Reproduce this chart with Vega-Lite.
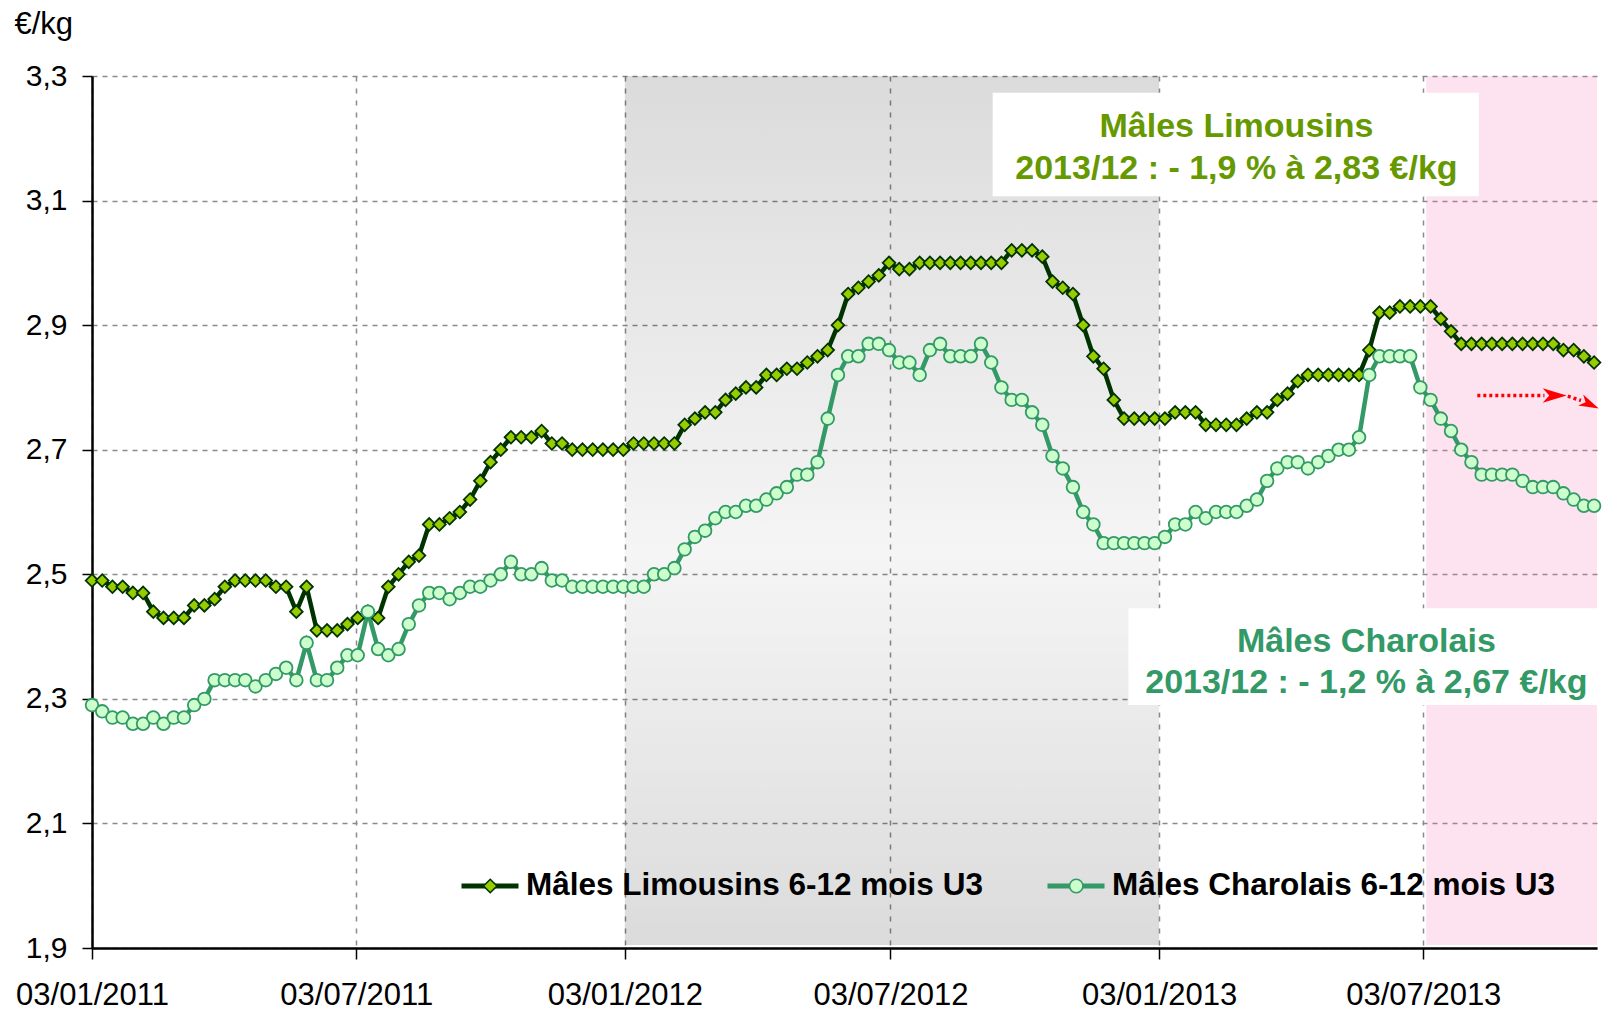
{
"$schema":"https://vega.github.io/schema/vega-lite/v6.json",
"width":1505,"height":872,
"autosize":{"type":"none"},
"padding":{"left":92,"top":76,"right":6,"bottom":62},
"background":"white",
"config":{"view":{"stroke":null},"font":"Liberation Sans"},
"datasets":{"prices":[
{"date":"2011-01-03","serie":"L","price":2.49},{"date":"2011-01-10","serie":"L","price":2.49},{"date":"2011-01-17","serie":"L","price":2.48},{"date":"2011-01-24","serie":"L","price":2.48},{"date":"2011-01-31","serie":"L","price":2.47},{"date":"2011-02-07","serie":"L","price":2.47},{"date":"2011-02-14","serie":"L","price":2.44},{"date":"2011-02-21","serie":"L","price":2.43},{"date":"2011-02-28","serie":"L","price":2.43},{"date":"2011-03-07","serie":"L","price":2.43},
{"date":"2011-03-14","serie":"L","price":2.45},{"date":"2011-03-21","serie":"L","price":2.45},{"date":"2011-03-28","serie":"L","price":2.46},{"date":"2011-04-04","serie":"L","price":2.48},{"date":"2011-04-11","serie":"L","price":2.49},{"date":"2011-04-18","serie":"L","price":2.49},{"date":"2011-04-25","serie":"L","price":2.49},{"date":"2011-05-02","serie":"L","price":2.49},{"date":"2011-05-09","serie":"L","price":2.48},{"date":"2011-05-16","serie":"L","price":2.48},
{"date":"2011-05-23","serie":"L","price":2.44},{"date":"2011-05-30","serie":"L","price":2.48},{"date":"2011-06-06","serie":"L","price":2.41},{"date":"2011-06-13","serie":"L","price":2.41},{"date":"2011-06-20","serie":"L","price":2.41},{"date":"2011-06-27","serie":"L","price":2.42},{"date":"2011-07-04","serie":"L","price":2.43},{"date":"2011-07-11","serie":"L","price":2.44},{"date":"2011-07-18","serie":"L","price":2.43},{"date":"2011-07-25","serie":"L","price":2.48},
{"date":"2011-08-01","serie":"L","price":2.50},{"date":"2011-08-08","serie":"L","price":2.52},{"date":"2011-08-15","serie":"L","price":2.53},{"date":"2011-08-22","serie":"L","price":2.58},{"date":"2011-08-29","serie":"L","price":2.58},{"date":"2011-09-05","serie":"L","price":2.59},{"date":"2011-09-12","serie":"L","price":2.60},{"date":"2011-09-19","serie":"L","price":2.62},{"date":"2011-09-26","serie":"L","price":2.65},{"date":"2011-10-03","serie":"L","price":2.68},
{"date":"2011-10-10","serie":"L","price":2.70},{"date":"2011-10-17","serie":"L","price":2.72},{"date":"2011-10-24","serie":"L","price":2.72},{"date":"2011-10-31","serie":"L","price":2.72},{"date":"2011-11-07","serie":"L","price":2.73},{"date":"2011-11-14","serie":"L","price":2.71},{"date":"2011-11-21","serie":"L","price":2.71},{"date":"2011-11-28","serie":"L","price":2.70},{"date":"2011-12-05","serie":"L","price":2.70},{"date":"2011-12-12","serie":"L","price":2.70},
{"date":"2011-12-19","serie":"L","price":2.70},{"date":"2011-12-26","serie":"L","price":2.70},{"date":"2012-01-02","serie":"L","price":2.70},{"date":"2012-01-09","serie":"L","price":2.71},{"date":"2012-01-16","serie":"L","price":2.71},{"date":"2012-01-23","serie":"L","price":2.71},{"date":"2012-01-30","serie":"L","price":2.71},{"date":"2012-02-06","serie":"L","price":2.71},{"date":"2012-02-13","serie":"L","price":2.74},{"date":"2012-02-20","serie":"L","price":2.75},
{"date":"2012-02-27","serie":"L","price":2.76},{"date":"2012-03-05","serie":"L","price":2.76},{"date":"2012-03-12","serie":"L","price":2.78},{"date":"2012-03-19","serie":"L","price":2.79},{"date":"2012-03-26","serie":"L","price":2.80},{"date":"2012-04-02","serie":"L","price":2.80},{"date":"2012-04-09","serie":"L","price":2.82},{"date":"2012-04-16","serie":"L","price":2.82},{"date":"2012-04-23","serie":"L","price":2.83},{"date":"2012-04-30","serie":"L","price":2.83},
{"date":"2012-05-07","serie":"L","price":2.84},{"date":"2012-05-14","serie":"L","price":2.85},{"date":"2012-05-21","serie":"L","price":2.86},{"date":"2012-05-28","serie":"L","price":2.90},{"date":"2012-06-04","serie":"L","price":2.95},{"date":"2012-06-11","serie":"L","price":2.96},{"date":"2012-06-18","serie":"L","price":2.97},{"date":"2012-06-25","serie":"L","price":2.98},{"date":"2012-07-02","serie":"L","price":3.00},{"date":"2012-07-09","serie":"L","price":2.99},
{"date":"2012-07-16","serie":"L","price":2.99},{"date":"2012-07-23","serie":"L","price":3.00},{"date":"2012-07-30","serie":"L","price":3.00},{"date":"2012-08-06","serie":"L","price":3.00},{"date":"2012-08-13","serie":"L","price":3.00},{"date":"2012-08-20","serie":"L","price":3.00},{"date":"2012-08-27","serie":"L","price":3.00},{"date":"2012-09-03","serie":"L","price":3.00},{"date":"2012-09-10","serie":"L","price":3.00},{"date":"2012-09-17","serie":"L","price":3.00},
{"date":"2012-09-24","serie":"L","price":3.02},{"date":"2012-10-01","serie":"L","price":3.02},{"date":"2012-10-08","serie":"L","price":3.02},{"date":"2012-10-15","serie":"L","price":3.01},{"date":"2012-10-22","serie":"L","price":2.97},{"date":"2012-10-29","serie":"L","price":2.96},{"date":"2012-11-05","serie":"L","price":2.95},{"date":"2012-11-12","serie":"L","price":2.90},{"date":"2012-11-19","serie":"L","price":2.85},{"date":"2012-11-26","serie":"L","price":2.83},
{"date":"2012-12-03","serie":"L","price":2.78},{"date":"2012-12-10","serie":"L","price":2.75},{"date":"2012-12-17","serie":"L","price":2.75},{"date":"2012-12-24","serie":"L","price":2.75},{"date":"2012-12-31","serie":"L","price":2.75},{"date":"2013-01-07","serie":"L","price":2.75},{"date":"2013-01-14","serie":"L","price":2.76},{"date":"2013-01-21","serie":"L","price":2.76},{"date":"2013-01-28","serie":"L","price":2.76},{"date":"2013-02-04","serie":"L","price":2.74},
{"date":"2013-02-11","serie":"L","price":2.74},{"date":"2013-02-18","serie":"L","price":2.74},{"date":"2013-02-25","serie":"L","price":2.74},{"date":"2013-03-04","serie":"L","price":2.75},{"date":"2013-03-11","serie":"L","price":2.76},{"date":"2013-03-18","serie":"L","price":2.76},{"date":"2013-03-25","serie":"L","price":2.78},{"date":"2013-04-01","serie":"L","price":2.79},{"date":"2013-04-08","serie":"L","price":2.81},{"date":"2013-04-15","serie":"L","price":2.82},
{"date":"2013-04-22","serie":"L","price":2.82},{"date":"2013-04-29","serie":"L","price":2.82},{"date":"2013-05-06","serie":"L","price":2.82},{"date":"2013-05-13","serie":"L","price":2.82},{"date":"2013-05-20","serie":"L","price":2.82},{"date":"2013-05-27","serie":"L","price":2.86},{"date":"2013-06-03","serie":"L","price":2.92},{"date":"2013-06-10","serie":"L","price":2.92},{"date":"2013-06-17","serie":"L","price":2.93},{"date":"2013-06-24","serie":"L","price":2.93},
{"date":"2013-07-01","serie":"L","price":2.93},{"date":"2013-07-08","serie":"L","price":2.93},{"date":"2013-07-15","serie":"L","price":2.91},{"date":"2013-07-22","serie":"L","price":2.89},{"date":"2013-07-29","serie":"L","price":2.87},{"date":"2013-08-05","serie":"L","price":2.87},{"date":"2013-08-12","serie":"L","price":2.87},{"date":"2013-08-19","serie":"L","price":2.87},{"date":"2013-08-26","serie":"L","price":2.87},{"date":"2013-09-02","serie":"L","price":2.87},
{"date":"2013-09-09","serie":"L","price":2.87},{"date":"2013-09-16","serie":"L","price":2.87},{"date":"2013-09-23","serie":"L","price":2.87},{"date":"2013-09-30","serie":"L","price":2.87},{"date":"2013-10-07","serie":"L","price":2.86},{"date":"2013-10-14","serie":"L","price":2.86},{"date":"2013-10-21","serie":"L","price":2.85},{"date":"2013-10-28","serie":"L","price":2.84},
{"date":"2011-01-03","serie":"C","price":2.29},{"date":"2011-01-10","serie":"C","price":2.28},{"date":"2011-01-17","serie":"C","price":2.27},{"date":"2011-01-24","serie":"C","price":2.27},{"date":"2011-01-31","serie":"C","price":2.26},{"date":"2011-02-07","serie":"C","price":2.26},{"date":"2011-02-14","serie":"C","price":2.27},{"date":"2011-02-21","serie":"C","price":2.26},{"date":"2011-02-28","serie":"C","price":2.27},{"date":"2011-03-07","serie":"C","price":2.27},
{"date":"2011-03-14","serie":"C","price":2.29},{"date":"2011-03-21","serie":"C","price":2.30},{"date":"2011-03-28","serie":"C","price":2.33},{"date":"2011-04-04","serie":"C","price":2.33},{"date":"2011-04-11","serie":"C","price":2.33},{"date":"2011-04-18","serie":"C","price":2.33},{"date":"2011-04-25","serie":"C","price":2.32},{"date":"2011-05-02","serie":"C","price":2.33},{"date":"2011-05-09","serie":"C","price":2.34},{"date":"2011-05-16","serie":"C","price":2.35},
{"date":"2011-05-23","serie":"C","price":2.33},{"date":"2011-05-30","serie":"C","price":2.39},{"date":"2011-06-06","serie":"C","price":2.33},{"date":"2011-06-13","serie":"C","price":2.33},{"date":"2011-06-20","serie":"C","price":2.35},{"date":"2011-06-27","serie":"C","price":2.37},{"date":"2011-07-04","serie":"C","price":2.37},{"date":"2011-07-11","serie":"C","price":2.44},{"date":"2011-07-18","serie":"C","price":2.38},{"date":"2011-07-25","serie":"C","price":2.37},
{"date":"2011-08-01","serie":"C","price":2.38},{"date":"2011-08-08","serie":"C","price":2.42},{"date":"2011-08-15","serie":"C","price":2.45},{"date":"2011-08-22","serie":"C","price":2.47},{"date":"2011-08-29","serie":"C","price":2.47},{"date":"2011-09-05","serie":"C","price":2.46},{"date":"2011-09-12","serie":"C","price":2.47},{"date":"2011-09-19","serie":"C","price":2.48},{"date":"2011-09-26","serie":"C","price":2.48},{"date":"2011-10-03","serie":"C","price":2.49},
{"date":"2011-10-10","serie":"C","price":2.50},{"date":"2011-10-17","serie":"C","price":2.52},{"date":"2011-10-24","serie":"C","price":2.50},{"date":"2011-10-31","serie":"C","price":2.50},{"date":"2011-11-07","serie":"C","price":2.51},{"date":"2011-11-14","serie":"C","price":2.49},{"date":"2011-11-21","serie":"C","price":2.49},{"date":"2011-11-28","serie":"C","price":2.48},{"date":"2011-12-05","serie":"C","price":2.48},{"date":"2011-12-12","serie":"C","price":2.48},
{"date":"2011-12-19","serie":"C","price":2.48},{"date":"2011-12-26","serie":"C","price":2.48},{"date":"2012-01-02","serie":"C","price":2.48},{"date":"2012-01-09","serie":"C","price":2.48},{"date":"2012-01-16","serie":"C","price":2.48},{"date":"2012-01-23","serie":"C","price":2.50},{"date":"2012-01-30","serie":"C","price":2.50},{"date":"2012-02-06","serie":"C","price":2.51},{"date":"2012-02-13","serie":"C","price":2.54},{"date":"2012-02-20","serie":"C","price":2.56},
{"date":"2012-02-27","serie":"C","price":2.57},{"date":"2012-03-05","serie":"C","price":2.59},{"date":"2012-03-12","serie":"C","price":2.60},{"date":"2012-03-19","serie":"C","price":2.60},{"date":"2012-03-26","serie":"C","price":2.61},{"date":"2012-04-02","serie":"C","price":2.61},{"date":"2012-04-09","serie":"C","price":2.62},{"date":"2012-04-16","serie":"C","price":2.63},{"date":"2012-04-23","serie":"C","price":2.64},{"date":"2012-04-30","serie":"C","price":2.66},
{"date":"2012-05-07","serie":"C","price":2.66},{"date":"2012-05-14","serie":"C","price":2.68},{"date":"2012-05-21","serie":"C","price":2.75},{"date":"2012-05-28","serie":"C","price":2.82},{"date":"2012-06-04","serie":"C","price":2.85},{"date":"2012-06-11","serie":"C","price":2.85},{"date":"2012-06-18","serie":"C","price":2.87},{"date":"2012-06-25","serie":"C","price":2.87},{"date":"2012-07-02","serie":"C","price":2.86},{"date":"2012-07-09","serie":"C","price":2.84},
{"date":"2012-07-16","serie":"C","price":2.84},{"date":"2012-07-23","serie":"C","price":2.82},{"date":"2012-07-30","serie":"C","price":2.86},{"date":"2012-08-06","serie":"C","price":2.87},{"date":"2012-08-13","serie":"C","price":2.85},{"date":"2012-08-20","serie":"C","price":2.85},{"date":"2012-08-27","serie":"C","price":2.85},{"date":"2012-09-03","serie":"C","price":2.87},{"date":"2012-09-10","serie":"C","price":2.84},{"date":"2012-09-17","serie":"C","price":2.80},
{"date":"2012-09-24","serie":"C","price":2.78},{"date":"2012-10-01","serie":"C","price":2.78},{"date":"2012-10-08","serie":"C","price":2.76},{"date":"2012-10-15","serie":"C","price":2.74},{"date":"2012-10-22","serie":"C","price":2.69},{"date":"2012-10-29","serie":"C","price":2.67},{"date":"2012-11-05","serie":"C","price":2.64},{"date":"2012-11-12","serie":"C","price":2.60},{"date":"2012-11-19","serie":"C","price":2.58},{"date":"2012-11-26","serie":"C","price":2.55},
{"date":"2012-12-03","serie":"C","price":2.55},{"date":"2012-12-10","serie":"C","price":2.55},{"date":"2012-12-17","serie":"C","price":2.55},{"date":"2012-12-24","serie":"C","price":2.55},{"date":"2012-12-31","serie":"C","price":2.55},{"date":"2013-01-07","serie":"C","price":2.56},{"date":"2013-01-14","serie":"C","price":2.58},{"date":"2013-01-21","serie":"C","price":2.58},{"date":"2013-01-28","serie":"C","price":2.60},{"date":"2013-02-04","serie":"C","price":2.59},
{"date":"2013-02-11","serie":"C","price":2.60},{"date":"2013-02-18","serie":"C","price":2.60},{"date":"2013-02-25","serie":"C","price":2.60},{"date":"2013-03-04","serie":"C","price":2.61},{"date":"2013-03-11","serie":"C","price":2.62},{"date":"2013-03-18","serie":"C","price":2.65},{"date":"2013-03-25","serie":"C","price":2.67},{"date":"2013-04-01","serie":"C","price":2.68},{"date":"2013-04-08","serie":"C","price":2.68},{"date":"2013-04-15","serie":"C","price":2.67},
{"date":"2013-04-22","serie":"C","price":2.68},{"date":"2013-04-29","serie":"C","price":2.69},{"date":"2013-05-06","serie":"C","price":2.70},{"date":"2013-05-13","serie":"C","price":2.70},{"date":"2013-05-20","serie":"C","price":2.72},{"date":"2013-05-27","serie":"C","price":2.82},{"date":"2013-06-03","serie":"C","price":2.85},{"date":"2013-06-10","serie":"C","price":2.85},{"date":"2013-06-17","serie":"C","price":2.85},{"date":"2013-06-24","serie":"C","price":2.85},
{"date":"2013-07-01","serie":"C","price":2.80},{"date":"2013-07-08","serie":"C","price":2.78},{"date":"2013-07-15","serie":"C","price":2.75},{"date":"2013-07-22","serie":"C","price":2.73},{"date":"2013-07-29","serie":"C","price":2.70},{"date":"2013-08-05","serie":"C","price":2.68},{"date":"2013-08-12","serie":"C","price":2.66},{"date":"2013-08-19","serie":"C","price":2.66},{"date":"2013-08-26","serie":"C","price":2.66},{"date":"2013-09-02","serie":"C","price":2.66},
{"date":"2013-09-09","serie":"C","price":2.65},{"date":"2013-09-16","serie":"C","price":2.64},{"date":"2013-09-23","serie":"C","price":2.64},{"date":"2013-09-30","serie":"C","price":2.64},{"date":"2013-10-07","serie":"C","price":2.63},{"date":"2013-10-14","serie":"C","price":2.62},{"date":"2013-10-21","serie":"C","price":2.61},{"date":"2013-10-28","serie":"C","price":2.61}
]},
"data":{"name":"prices"},
"layer":[
{"data":{"values":[{}]},
 "mark":{"type":"rect","fill":{"gradient":"linear","x1":0,"y1":0,"x2":0,"y2":1,"stops":[{"offset":0,"color":"rgba(0,0,0,0.14)"},{"offset":0.55,"color":"rgba(0,0,0,0.04)"},{"offset":1,"color":"rgba(0,0,0,0.14)"}]}},
 "encoding":{"x":{"datum":{"year":2012,"month":1,"date":3,"utc":true},"type":"temporal","scale":{"type":"utc"}},"x2":{"datum":{"year":2013,"month":1,"date":3,"utc":true}},"y":{"datum":3.3,"type":"quantitative"},"y2":{"datum":1.905}}},
{"data":{"values":[{}]},
 "mark":{"type":"rect","fill":"rgb(245,120,185)","opacity":0.21},
 "encoding":{"x":{"datum":{"year":2013,"month":7,"date":5,"utc":true},"type":"temporal","scale":{"type":"utc"}},"x2":{"datum":{"year":2013,"month":10,"date":30,"utc":true}},"y":{"datum":3.3,"type":"quantitative"},"y2":{"datum":1.905}}},
{"data":{"values":[{}]},
 "mark":{"type":"rect","fill":"white"},
 "encoding":{"x":{"datum":{"year":2012,"month":9,"date":11,"utc":true},"type":"temporal","scale":{"type":"utc"}},"x2":{"datum":{"year":2013,"month":8,"date":10,"utc":true}},"y":{"datum":3.273,"type":"quantitative"},"y2":{"datum":3.107}}},
{"data":{"values":[{}]},
 "mark":{"type":"rect","fill":"white"},
 "encoding":{"x":{"datum":{"year":2012,"month":12,"date":13,"utc":true},"type":"temporal","scale":{"type":"utc"}},"x2":{"datum":{"year":2013,"month":11,"date":2,"utc":true}},"y":{"datum":2.4455,"type":"quantitative"},"y2":{"datum":2.29}}},
{"data":{"values":[{}]},
 "mark":{"type":"text","text":["Mâles Limousins","2013/12 : - 1,9 % à 2,83 €/kg"],"lineHeight":42,"font":"Liberation Sans","fontSize":34,"fontWeight":"bold","color":"#669900","align":"center","baseline":"middle"},
 "encoding":{"x":{"datum":{"year":2013,"month":2,"date":25,"utc":true},"type":"temporal","scale":{"type":"utc"}},"y":{"datum":3.218,"type":"quantitative"}}},
{"data":{"values":[{}]},
 "mark":{"type":"text","text":["Mâles Charolais","2013/12 : - 1,2 % à 2,67 €/kg"],"lineHeight":41,"font":"Liberation Sans","fontSize":34,"fontWeight":"bold","color":"#339966","align":"center","baseline":"middle"},
 "encoding":{"x":{"datum":{"year":2013,"month":5,"date":25,"utc":true},"type":"temporal","scale":{"type":"utc"}},"y":{"datum":2.392,"type":"quantitative"}}},
{"mark":{"type":"line","strokeWidth":4.5},
 "encoding":{
  "x":{"field":"date","type":"temporal","title":null,
   "scale":{"type":"utc","domain":[{"year":2011,"month":1,"date":3,"utc":true},{"year":2013,"month":10,"date":30,"utc":true}]},
   "axis":{"values":[{"year":2011,"month":1,"date":3,"utc":true},{"year":2011,"month":7,"date":3,"utc":true},{"year":2012,"month":1,"date":3,"utc":true},{"year":2012,"month":7,"date":3,"utc":true},{"year":2013,"month":1,"date":3,"utc":true},{"year":2013,"month":7,"date":3,"utc":true}],
    "format":"%d/%m/%Y","labelFont":"Liberation Sans","labelFontSize":31,"labelColor":"black","labelPadding":21,"labelFlush":false,"labelOverlap":false,"labelBound":false,
    "domainColor":"black","domainWidth":2.5,"tickColor":"black","tickWidth":1.5,"tickSize":11,
    "grid":true,"gridColor":"#8a8a8a","gridWidth":1.5,"gridDash":[5,7]}},
  "y":{"field":"price","type":"quantitative","title":"€/kg",
   "scale":{"domain":[1.9,3.3],"nice":false,"zero":false},
   "axis":{"values":[1.9,2.1,2.3,2.5,2.7,2.9,3.1,3.3],"labelExpr":"replace(format(datum.value,'.1f'),'.',',')",
    "labelFont":"Liberation Sans","labelFontSize":30,"labelColor":"black","labelPadding":15,
    "domainColor":"black","domainWidth":2.5,"tickColor":"black","tickWidth":1.5,"tickSize":10,
    "grid":true,"gridColor":"#8a8a8a","gridWidth":1.5,"gridDash":[5,5],
    "titleAngle":0,"titleAlign":"left","titleBaseline":"top","titleX":-78,"titleY":-67,"titleFont":"Liberation Sans","titleFontSize":31,"titleFontWeight":"normal","titleColor":"black"}},
  "color":{"field":"serie","type":"nominal","sort":"descending","scale":{"range":["#003300","#339966"]},
   "legend":{"orient":"none","legendX":367,"legendY":790,"direction":"horizontal","title":null,"padding":0,"symbolType":"stroke","symbolSize":3249,"symbolStrokeWidth":5,"labelOffset":5,"clipHeight":40,"columnPadding":62,"labelFont":"Liberation Sans","labelFontSize":31.5,"labelFontWeight":"bold","labelColor":"black","labelLimit":1000,
    "labelExpr":"datum.label == 'L' ? 'Mâles Limousins 6-12 mois U3' : 'Mâles Charolais 6-12 mois U3'"}}}},
{"transform":[{"filter":"datum.price > 0"}],
 "mark":{"type":"point","size":160,"strokeWidth":1.8,"opacity":1},
 "encoding":{
  "x":{"field":"date","type":"temporal","scale":{"type":"utc"}},
  "y":{"field":"price","type":"quantitative"},
  "shape":{"field":"serie","type":"nominal","sort":"descending","scale":{"range":["diamond","circle"]},
   "legend":{"orient":"none","legendX":367,"legendY":790,"direction":"horizontal","title":null,"padding":0,"symbolSize":180,"symbolStrokeWidth":1.6,"symbolOffset":15.5,"labelOffset":36,"clipHeight":40,"columnPadding":503,"labelFont":"Liberation Sans","labelFontSize":31.5,"labelFontWeight":"bold","labelLimit":1000,"labelExpr":"''"}},
  "fill":{"field":"serie","type":"nominal","sort":"descending","scale":{"range":["#99cc00","#ccffcc"]},
   "legend":{"orient":"none","legendX":367,"legendY":790,"direction":"horizontal","title":null,"padding":0,"symbolSize":180,"symbolStrokeWidth":1.6,"symbolOffset":15.5,"labelOffset":36,"clipHeight":40,"columnPadding":503,"labelFont":"Liberation Sans","labelFontSize":31.5,"labelFontWeight":"bold","labelLimit":1000,"labelExpr":"''"}},
  "stroke":{"field":"serie","type":"nominal","sort":"descending","scale":{"range":["#003300","#339966"]},
   "legend":{"orient":"none","legendX":367,"legendY":790,"direction":"horizontal","title":null,"padding":0,"symbolSize":180,"symbolStrokeWidth":1.6,"symbolOffset":15.5,"labelOffset":36,"clipHeight":40,"columnPadding":503,"labelFont":"Liberation Sans","labelFontSize":31.5,"labelFontWeight":"bold","labelLimit":1000,"labelExpr":"''"}}}},
{"data":{"values":[{}]},
 "mark":{"type":"rule","color":"#ff0000","strokeWidth":3.5,"strokeDash":[3,3]},
 "encoding":{"x":{"datum":{"year":2013,"month":8,"date":9,"utc":true},"type":"temporal","scale":{"type":"utc"}},"x2":{"datum":{"year":2013,"month":9,"date":24,"utc":true}},"y":{"datum":2.787,"type":"quantitative"}}},
{"data":{"values":[{}]},
 "mark":{"type":"point","shape":"M-1,-0.6L1,0L-1,0.6L-0.45,0Z","filled":true,"color":"#ff0000","size":576,"opacity":1},
 "encoding":{"x":{"datum":{"year":2013,"month":10,"date":1,"utc":true},"type":"temporal","scale":{"type":"utc"}},"y":{"datum":2.787,"type":"quantitative"}}},
{"data":{"values":[{}]},
 "mark":{"type":"rule","color":"#ff0000","strokeWidth":3.5,"strokeDash":[3,3]},
 "encoding":{"x":{"datum":{"year":2013,"month":10,"date":10,"utc":true},"type":"temporal","scale":{"type":"utc"}},"x2":{"datum":{"year":2013,"month":10,"date":19,"utc":true}},"y":{"datum":2.786,"type":"quantitative"},"y2":{"datum":2.779}}},
{"data":{"values":[{}]},
 "mark":{"type":"point","shape":"M-1,-0.6L1,0L-1,0.6L-0.45,0Z","filled":true,"color":"#ff0000","size":400,"opacity":1,"angle":25},
 "encoding":{"x":{"datum":{"year":2013,"month":10,"date":25,"utc":true},"type":"temporal","scale":{"type":"utc"}},"y":{"datum":2.773,"type":"quantitative"}}}
]
}
